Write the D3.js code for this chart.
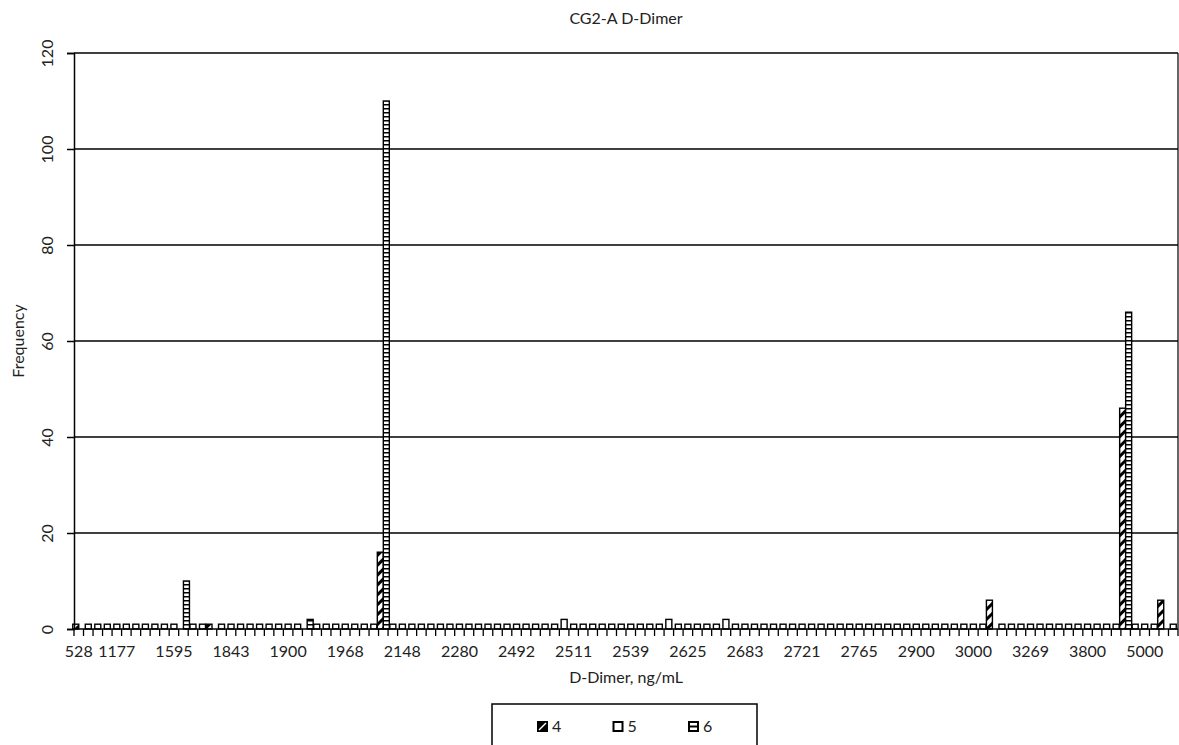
<!DOCTYPE html>
<html>
<head>
<meta charset="utf-8">
<script src="https://cdn.jsdelivr.net/npm/d3@7"></script>
<style>
  body { margin: 0; background: #fff; }
  text { font-family: Lato, "Open Sans", sans-serif; fill: #222; }
</style>
</head>
<body>
<div id="chart"></div>
<script>
// x categories (D-Dimer result, ng/mL); blank = value not printed on the axis
const categories = [
  "528", "", "", "", "1177", "", "", "", "", "",
  "1595", "", "", "", "", "", "1843", "", "", "",
  "", "", "1900", "", "", "", "", "", "1968", "",
  "", "", "", "", "2148", "", "", "", "", "",
  "2280", "", "", "", "", "", "2492", "", "", "",
  "", "", "2511", "", "", "", "", "", "2539", "",
  "", "", "", "", "2625", "", "", "", "", "",
  "2683", "", "", "", "", "", "2721", "", "", "",
  "", "", "2765", "", "", "", "", "", "2900", "",
  "", "", "", "", "3000", "", "", "", "", "",
  "3269", "", "", "", "", "", "3800", "", "", "",
  "", "", "5000", "", "", ""
];

// frequencies per series, one value per category
const series4 = [
  1, 0, 0, 0, 0, 0, 0, 0, 0, 0,
  0, 0, 0, 0, 1, 0, 0, 0, 0, 0,
  0, 0, 0, 0, 0, 0, 0, 0, 0, 0,
  0, 0, 16, 0, 0, 0, 0, 0, 0, 0,
  0, 0, 0, 0, 0, 0, 0, 0, 0, 0,
  0, 0, 0, 0, 0, 0, 0, 0, 0, 0,
  0, 0, 0, 0, 0, 0, 0, 0, 0, 0,
  0, 0, 0, 0, 0, 0, 0, 0, 0, 0,
  0, 0, 0, 0, 0, 0, 0, 0, 0, 0,
  0, 0, 0, 0, 0, 0, 6, 0, 0, 0,
  0, 0, 0, 0, 0, 0, 0, 0, 0, 0,
  46, 0, 0, 0, 6, 0
];
const series5 = [
  0, 1, 1, 1, 1, 1, 1, 1, 1, 1,
  1, 0, 1, 1, 0, 1, 1, 1, 1, 1,
  1, 1, 1, 1, 0, 1, 1, 1, 1, 1,
  1, 1, 0, 1, 1, 1, 1, 1, 1, 1,
  1, 1, 1, 1, 1, 1, 1, 1, 1, 1,
  1, 2, 1, 1, 1, 1, 1, 1, 1, 1,
  1, 1, 2, 1, 1, 1, 1, 1, 2, 1,
  1, 1, 1, 1, 1, 1, 1, 1, 1, 1,
  1, 1, 1, 1, 1, 1, 1, 1, 1, 1,
  1, 1, 1, 1, 1, 1, 0, 1, 1, 1,
  1, 1, 1, 1, 1, 1, 1, 1, 1, 1,
  0, 1, 1, 1, 0, 1
];
const series6 = [
  0, 0, 0, 0, 0, 0, 0, 0, 0, 0,
  0, 10, 0, 0, 0, 0, 0, 0, 0, 0,
  0, 0, 0, 0, 2, 0, 0, 0, 0, 0,
  0, 0, 110, 0, 0, 0, 0, 0, 0, 0,
  0, 0, 0, 0, 0, 0, 0, 0, 0, 0,
  0, 0, 0, 0, 0, 0, 0, 0, 0, 0,
  0, 0, 0, 0, 0, 0, 0, 0, 0, 0,
  0, 0, 0, 0, 0, 0, 0, 0, 0, 0,
  0, 0, 0, 0, 0, 0, 0, 0, 0, 0,
  0, 0, 0, 0, 0, 0, 0, 0, 0, 0,
  0, 0, 0, 0, 0, 0, 0, 0, 0, 0,
  66, 0, 0, 0, 0, 0
];
const seriesNames = ["4", "5", "6"];
const yTicks = [0, 20, 40, 60, 80, 100, 120];

const width = 1179, height = 745;
const plot = { left: 74, right: 1178, top: 53, bottom: 629 };

const svg = d3.select("#chart").append("svg")
  .attr("width", width)
  .attr("height", height);

const defs = svg.append("defs");
defs.append("pattern")
  .attr("id", "hatch")
  .attr("patternUnits", "userSpaceOnUse")
  .attr("width", 7).attr("height", 7)
  .attr("patternTransform", "rotate(45)")
  .call(p => {
    p.append("rect").attr("width", 7).attr("height", 7).attr("fill", "#fff");
    p.append("rect").attr("width", 3).attr("height", 7).attr("fill", "#000");
  });
defs.append("pattern")
  .attr("id", "ladder")
  .attr("patternUnits", "userSpaceOnUse")
  .attr("width", 8).attr("height", 4)
  .call(p => {
    p.append("rect").attr("width", 8).attr("height", 4).attr("fill", "#fff");
    p.append("rect").attr("width", 8).attr("height", 1.5).attr("fill", "#000");
  });

const fills = ["url(#hatch)", "#fff", "url(#ladder)"];

const x = d3.scaleBand()
  .domain(d3.range(categories.length))
  .range([plot.left, plot.right]);

const y = d3.scaleLinear()
  .domain([0, 120])
  .range([plot.bottom, plot.top]);

// slot of each series inside a category (overlapping clustered bars)
const slot = d3.scaleLinear().domain([0, 2]).range([-6, 0]);
const barW = 6;

// gridlines
svg.append("g")
  .selectAll("line")
  .data(yTicks.slice(1))
  .join("line")
  .attr("x1", plot.left).attr("x2", plot.right)
  .attr("y1", d => y(d)).attr("y2", d => y(d))
  .attr("stroke", "#000").attr("stroke-width", 1.5);

// right border of the plot area
svg.append("line")
  .attr("x1", plot.right).attr("x2", plot.right)
  .attr("y1", plot.top).attr("y2", plot.bottom)
  .attr("stroke", "#000").attr("stroke-width", 1.2);

// bars
const allSeries = [series4, series5, series6];
allSeries.forEach((values, s) => {
  svg.append("g")
    .selectAll("rect")
    .data(values.map((v, i) => ({ i, v })).filter(d => d.v > 0))
    .join("rect")
    .attr("x", d => x(d.i) + x.bandwidth() / 2 + slot(s))
    .attr("y", d => y(d.v))
    .attr("width", barW)
    .attr("height", d => y(0) - y(d.v))
    .attr("fill", fills[s])
    .attr("stroke", "#000")
    .attr("stroke-width", 1.4);
});

// y axis
const yAxis = svg.append("g")
  .attr("transform", `translate(${plot.left},0)`)
  .call(d3.axisLeft(y).tickValues(yTicks).tickSize(7).tickFormat(d3.format("d")));
yAxis.select(".domain").attr("stroke", "#000").attr("stroke-width", 1.5);
yAxis.selectAll(".tick line").attr("stroke", "#000").attr("stroke-width", 1.5);
yAxis.selectAll(".tick text")
  .attr("font-size", 16)
  .attr("text-anchor", "middle")
  .attr("transform", "rotate(-90)")
  .attr("x", 0).attr("dy", 0)
  .attr("y", -21);

// x axis: a tick between every category, labels where printed
const xAxis = svg.append("g")
  .attr("transform", `translate(0,${plot.bottom})`);
xAxis.append("line")
  .attr("x1", plot.left).attr("x2", plot.right)
  .attr("stroke", "#000").attr("stroke-width", 1.5);
xAxis.selectAll("line.tick")
  .data(d3.range(categories.length + 1))
  .join("line")
  .attr("class", "tick")
  .attr("x1", i => plot.left + i * x.bandwidth())
  .attr("x2", i => plot.left + i * x.bandwidth())
  .attr("y1", 0).attr("y2", 7)
  .attr("stroke", "#000").attr("stroke-width", 1.3);
xAxis.selectAll("text")
  .data(categories.map((c, i) => ({ c, i })).filter(d => d.c !== ""))
  .join("text")
  .attr("x", d => x(d.i) + x.bandwidth() / 2)
  .attr("y", 28)
  .attr("text-anchor", "middle")
  .attr("font-size", 16)
  .text(d => d.c);

// titles
svg.append("text")
  .attr("x", (plot.left + plot.right) / 2).attr("y", 24)
  .attr("text-anchor", "middle").attr("font-size", 16)
  .text("CG2-A D-Dimer");
svg.append("text")
  .attr("x", (plot.left + plot.right) / 2).attr("y", 683)
  .attr("text-anchor", "middle").attr("font-size", 16)
  .text("D-Dimer, ng/mL");
svg.append("text")
  .attr("transform", `translate(24,${(plot.top + plot.bottom) / 2}) rotate(-90)`)
  .attr("text-anchor", "middle").attr("font-size", 16)
  .text("Frequency");

// legend
const legend = svg.append("g").attr("transform", "translate(492,704)");
legend.append("rect")
  .attr("width", 265).attr("height", 60)
  .attr("fill", "#fff").attr("stroke", "#000").attr("stroke-width", 1.5);
const legendX = d3.scalePoint().domain(seriesNames).range([46, 197]);
const item = legend.selectAll("g.item")
  .data(seriesNames)
  .join("g")
  .attr("class", "item")
  .attr("transform", d => `translate(${legendX(d)},18)`);
item.append("rect")
  .attr("width", 9).attr("height", 9)
  .attr("fill", (d, i) => i === 0 ? "#000" : "#fff")
  .attr("stroke", "#000").attr("stroke-width", 2);
item.filter((d, i) => i === 0).append("line")
  .attr("x1", 1).attr("y1", 8).attr("x2", 8).attr("y2", 1)
  .attr("stroke", "#fff").attr("stroke-width", 1.5);
item.filter((d, i) => i === 2).append("line")
  .attr("x1", 0).attr("y1", 4.5).attr("x2", 9).attr("y2", 4.5)
  .attr("stroke", "#000").attr("stroke-width", 2);
item.append("text")
  .attr("x", 14).attr("y", 9.5)
  .attr("font-size", 16)
  .text(d => d);
</script>
</body>
</html>
